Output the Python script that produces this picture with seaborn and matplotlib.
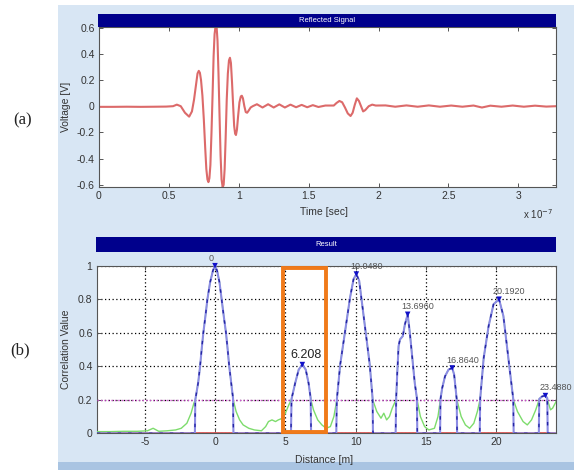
import numpy as np
import pandas as pd
import matplotlib
matplotlib.use("Agg")
import matplotlib.pyplot as plt
import seaborn as sns
from matplotlib.patches import Rectangle

# ---------------- data: (a) reflected signal (time in units of 1e-7 s) ----------------
time_e7 = [0.00, 0.10, 0.20, 0.30, 0.40, 0.48, 0.53, 0.557, 0.585, 0.615,
           0.645, 0.665, 0.680, 0.695, 0.705, 0.714, 0.722, 0.730, 0.740, 0.750,
           0.760, 0.768, 0.776, 0.783, 0.790, 0.797, 0.805, 0.813, 0.820, 0.827,
           0.835, 0.842, 0.848, 0.855, 0.862, 0.870, 0.877, 0.885, 0.892, 0.899,
           0.906, 0.914, 0.922, 0.930, 0.937, 0.944, 0.952, 0.960, 0.967, 0.974,
           0.980, 0.987, 0.995, 1.005, 1.015, 1.022, 1.030, 1.040, 1.050, 1.060,
           1.070, 1.085, 1.100, 1.130, 1.170, 1.210, 1.250, 1.290, 1.330, 1.370,
           1.410, 1.450, 1.490, 1.530, 1.570, 1.620, 1.680, 1.700, 1.720, 1.740,
           1.760, 1.780, 1.800, 1.815, 1.830, 1.845, 1.860, 1.875, 1.890, 1.905,
           1.930, 1.955, 1.980, 2.050, 2.120, 2.200, 2.280, 2.360, 2.440, 2.520,
           2.600, 2.680, 2.740, 2.800, 2.880, 2.960, 3.040, 3.120, 3.200, 3.270]
voltage = [-0.005, -0.005, -0.004, -0.005, -0.004, -0.003, 0.000, 0.012, 0.000, -0.050,
           -0.080, -0.040, 0.050, 0.170, 0.250, 0.270, 0.255, 0.200, 0.080, -0.100,
           -0.320, -0.480, -0.560, -0.580, -0.550, -0.450, -0.200, 0.100, 0.380, 0.550,
           0.620, 0.600, 0.500, 0.250, -0.050, -0.380, -0.560, -0.620, -0.600, -0.480,
           -0.250, 0.050, 0.250, 0.350, 0.370, 0.330, 0.180, 0.000, -0.150, -0.210,
           -0.220, -0.180, -0.080, 0.030, 0.075, 0.080, 0.060, 0.000, -0.045, -0.050,
           -0.035, -0.010, 0.000, 0.015, -0.010, 0.015, -0.010, 0.014, -0.010, 0.012,
           -0.008, 0.010, -0.008, 0.008, -0.006, 0.005, 0.005, 0.025, 0.040, 0.030,
           -0.010, -0.055, -0.075, -0.050, 0.010, 0.060, 0.040, 0.000, -0.040, -0.030,
           0.000, 0.012, 0.005, 0.006, -0.004, 0.006, -0.004, 0.006, -0.004, 0.005,
           -0.004, 0.005, -0.010, 0.004, -0.004, 0.005, -0.004, 0.004, -0.003, 0.000]
time_ticks = [0, 0.5, 1, 1.5, 2, 2.5, 3]
time_ticklabels = ["0", "0.5", "1", "1.5", "2", "2.5", "3"]
volt_ticks = [-0.6, -0.4, -0.2, 0, 0.2, 0.4, 0.6]
volt_ticklabels = ["-0.6", "-0.4", "-0.2", "0", "0.2", "0.4", "0.6"]

# ---------------- data: (b) correlation result ----------------
distance = [-8.40, -7.50, -6.50, -5.50, -4.80, -4.40, -4.00, -3.40, -2.80, -2.40,
            -2.00, -1.70, -1.50, -1.43, -1.40, -1.20, -1.06, -0.95, -0.83, -0.68,
            -0.54, -0.35, -0.15, 0.00, 0.15, 0.32, 0.47, 0.62, 0.78, 0.90,
            1.01, 1.15, 1.28, 1.31, 1.50, 1.75, 2.00, 2.40, 2.80, 3.30,
            3.60, 3.80, 4.05, 4.30, 4.50, 4.80, 5.00, 5.25, 5.40, 5.44,
            5.70, 5.95, 6.208, 6.45, 6.65, 6.80, 6.83, 7.00, 7.30, 7.60,
            7.90, 8.20, 8.45, 8.62, 8.66, 8.90, 9.25, 9.60, 9.85, 10.048,
            10.25, 10.40, 10.70, 11.00, 11.20, 11.23, 11.50, 11.80, 12.00, 12.20,
            12.40, 12.60, 12.84, 12.88, 12.95, 13.05, 13.15, 13.35, 13.50, 13.696,
            13.85, 14.00, 14.20, 14.35, 14.38, 14.60, 14.90, 15.20, 15.60, 15.85,
            16.00, 16.03, 16.15, 16.35, 16.60, 16.864, 17.00, 17.12, 17.18, 17.21,
            17.50, 17.80, 18.10, 18.40, 18.65, 18.82, 18.85, 19.10, 19.45, 19.80,
            20.192, 20.50, 20.75, 20.95, 21.15, 21.20, 21.23, 21.50, 21.90, 22.20,
            22.50, 22.80, 23.02, 23.05, 23.25, 23.488, 23.62, 23.65, 23.85, 24.00,
            24.25]
correlation = [0.010, 0.010, 0.012, 0.012, 0.015, 0.030, 0.012, 0.015, 0.020, 0.030,
               0.060, 0.120, 0.180, 0.195, 0.200, 0.300, 0.400, 0.500, 0.600, 0.700,
               0.800, 0.900, 0.970, 1.000, 0.970, 0.900, 0.800, 0.700, 0.600, 0.500,
               0.400, 0.300, 0.210, 0.195, 0.130, 0.080, 0.050, 0.030, 0.020, 0.015,
               0.040, 0.070, 0.080, 0.070, 0.080, 0.090, 0.120, 0.170, 0.195, 0.205,
               0.300, 0.380, 0.410, 0.380, 0.300, 0.210, 0.195, 0.140, 0.080, 0.050,
               0.030, 0.040, 0.100, 0.180, 0.200, 0.410, 0.610, 0.810, 0.920, 0.950,
               0.910, 0.810, 0.610, 0.410, 0.210, 0.195, 0.130, 0.090, 0.120, 0.080,
               0.100, 0.150, 0.195, 0.210, 0.350, 0.520, 0.560, 0.580, 0.650, 0.710,
               0.600, 0.470, 0.300, 0.210, 0.195, 0.100, 0.040, 0.020, 0.030, 0.100,
               0.190, 0.205, 0.270, 0.340, 0.380, 0.390, 0.350, 0.250, 0.205, 0.195,
               0.100, 0.050, 0.030, 0.060, 0.130, 0.195, 0.205, 0.450, 0.640, 0.770,
               0.800, 0.700, 0.520, 0.380, 0.240, 0.205, 0.195, 0.130, 0.070, 0.050,
               0.080, 0.140, 0.195, 0.205, 0.220, 0.225, 0.210, 0.195, 0.140, 0.150,
               0.190]
threshold = 0.2
peak_pos = [0.0, 6.208, 10.048, 13.696, 16.864, 20.192, 23.488]
peak_val = [1.0, 0.41, 0.95, 0.71, 0.39, 0.80, 0.225]
peak_labels = ["0", "6.208", "10.0480", "13.6960", "16.8640", "20.1920", "23.4880"]
dist_ticks = [-5, 0, 5, 10, 15, 20]
dist_ticklabels = ["-5", "0", "5", "10", "15", "20"]
corr_ticks = [0, 0.2, 0.4, 0.6, 0.8, 1.0]
corr_ticklabels = ["0", "0.2", "0.4", "0.6", "0.8", "1"]
highlight_range = (4.82, 7.90)

# ---------------- figure ----------------
sns.set_theme(style="white")
plt.rcParams['font.family'] = ['Liberation Sans', 'DejaVu Sans']

W, H = 574, 470
fig = plt.figure(figsize=(W / 100, H / 100), dpi=100)
fig.patch.set_facecolor("white")


def fx(px):
    return px / W


def fy(py):
    return 1 - py / H


# light-blue GUI panel and bottom stripe
fig.add_artist(Rectangle((fx(58), 0), 1 - fx(58), fy(5), transform=fig.transFigure,
                         facecolor="#d8e6f4", edgecolor="none", zorder=-5))
fig.add_artist(Rectangle((fx(58), 0), 1 - fx(58), 8 / H, transform=fig.transFigure,
                         facecolor="#a9c4e2", edgecolor="none", zorder=-4))

TICK_FS = 7.5
TICK_COLOR = "#333333"


def style_axes(ax):
    ax.set_facecolor("white")
    for s in ax.spines.values():
        s.set_color("#555555")
        s.set_linewidth(0.8)
    ax.tick_params(direction="in", length=3, width=0.7, color="#555555",
                   labelsize=TICK_FS, labelcolor=TICK_COLOR, pad=3,
                   top=True, right=True, bottom=True, left=True)


def title_bar(x0, x1, y0, y1, text):
    tb = fig.add_axes([fx(x0), fy(y1), fx(x1) - fx(x0), fy(y0) - fy(y1)])
    tb.set_facecolor("#00008c")
    tb.set_xticks([])
    tb.set_yticks([])
    for s in tb.spines.values():
        s.set_visible(False)
    tb.text(0.5, 0.5, text, color="white", fontsize=5.5, ha="center", va="center",
            transform=tb.transAxes)


# ---- (a) top panel ----
ax1 = fig.add_axes([fx(99), fy(186.7), fx(556) - fx(99), fy(27) - fy(186.7)])
style_axes(ax1)
sig_df = pd.DataFrame({"t": time_e7, "v": voltage})
sns.lineplot(data=sig_df, x="t", y="v", ax=ax1, color="#dc6a6a", lw=1.5,
             sort=False, estimator=None)
ax1.set_xlim(0, 3.27)
ax1.set_ylim(-0.615, 0.605)
ax1.set_xticks(time_ticks)
ax1.set_xticklabels(time_ticklabels)
ax1.set_yticks(volt_ticks)
ax1.set_yticklabels(volt_ticklabels)
ax1.set_xlabel("Time [sec]", fontsize=7.5, color=TICK_COLOR)
ax1.set_ylabel("Voltage [V]", fontsize=7.5, color=TICK_COLOR)
ax1.xaxis.set_label_coords(0.492, -0.13)
ax1.yaxis.set_label_coords(-0.062, 0.5)
fig.text(fx(538), fy(214), r"x 10$^{-7}$", fontsize=7, color=TICK_COLOR,
         ha="center", va="center")
title_bar(98, 556, 14, 27, "Reflected Signal")

# ---- (b) bottom panel ----
ax2 = fig.add_axes([fx(96.7), fy(433.3), fx(556) - fx(96.7), fy(265.7) - fy(433.3)])
style_axes(ax2)
ax2.set_xlim(-8.41, 24.24)
ax2.set_ylim(0, 1)
ax2.set_xticks(dist_ticks)
ax2.set_xticklabels(dist_ticklabels)
ax2.set_yticks(corr_ticks)
ax2.set_yticklabels(corr_ticklabels)
ax2.grid(True, color="black", linestyle=(0, (1, 2)), linewidth=0.9)
ax2.set_axisbelow(True)

corr_df = pd.DataFrame({"d": distance, "c": correlation})
corr_df["above"] = np.where(corr_df["c"] >= threshold, corr_df["c"], 0.0)

ax2.axhline(0, color="#e05555", lw=2.0, zorder=2)
sns.lineplot(data=corr_df, x="d", y="c", ax=ax2, color="#7ddc6c", lw=1.0,
             sort=False, estimator=None, zorder=3)
ax2.axhline(threshold, color="#d050d0", lw=1.0, linestyle=(0, (1, 1.5)), zorder=3)
sns.lineplot(data=corr_df, x="d", y="above", ax=ax2, color="#8c8ce4", lw=1.5,
             sort=False, estimator=None, zorder=4)
ax2.plot(corr_df["d"], corr_df["above"], color="#2424a4", lw=1.0,
         linestyle=(0, (2.5, 5)), zorder=5)
sns.scatterplot(x=peak_pos, y=peak_val, ax=ax2, marker="v", s=16, color="#1010c8",
                edgecolor="none", zorder=6, clip_on=False)

for pos, val, lab in zip(peak_pos, peak_val, peak_labels):
    if lab == "6.208":
        ax2.annotate(lab, (pos, val), xytext=(2.5, 7), textcoords="offset points",
                     fontsize=9, color="#222222", ha="center", va="center",
                     annotation_clip=False, zorder=8)
    elif lab == "0":
        ax2.annotate(lab, (pos, val), xytext=(-3, 5.5), textcoords="offset points",
                     fontsize=6.5, color="#555555", ha="center", va="center",
                     annotation_clip=False, zorder=8)
    else:
        ax2.annotate(lab, (pos, val), xytext=(-4.5, 5.5), textcoords="offset points",
                     fontsize=6.5, color="#555555", ha="left", va="center",
                     annotation_clip=False, zorder=8)

ax2.add_patch(Rectangle((highlight_range[0], 0.01), highlight_range[1] - highlight_range[0],
                        0.978, fill=False, edgecolor="#f07a1a", lw=2.8,
                        zorder=7, clip_on=False))
ax2.set_xlabel("Distance [m]", fontsize=7.5, color=TICK_COLOR)
ax2.set_ylabel("Correlation Value", fontsize=7.5, color=TICK_COLOR)
ax2.xaxis.set_label_coords(0.495, -0.13)
ax2.yaxis.set_label_coords(-0.057, 0.5)
title_bar(96, 556, 237, 252, "Result")

# panel letters
fig.text(fx(23), fy(120), "(a)", fontsize=12, family="Liberation Serif",
         ha="center", va="center", color="#222222")
fig.text(fx(20), fy(350), "(b)", fontsize=12, family="Liberation Serif",
         ha="center", va="center", color="#222222")

fig.savefig("out.png", dpi=100)
